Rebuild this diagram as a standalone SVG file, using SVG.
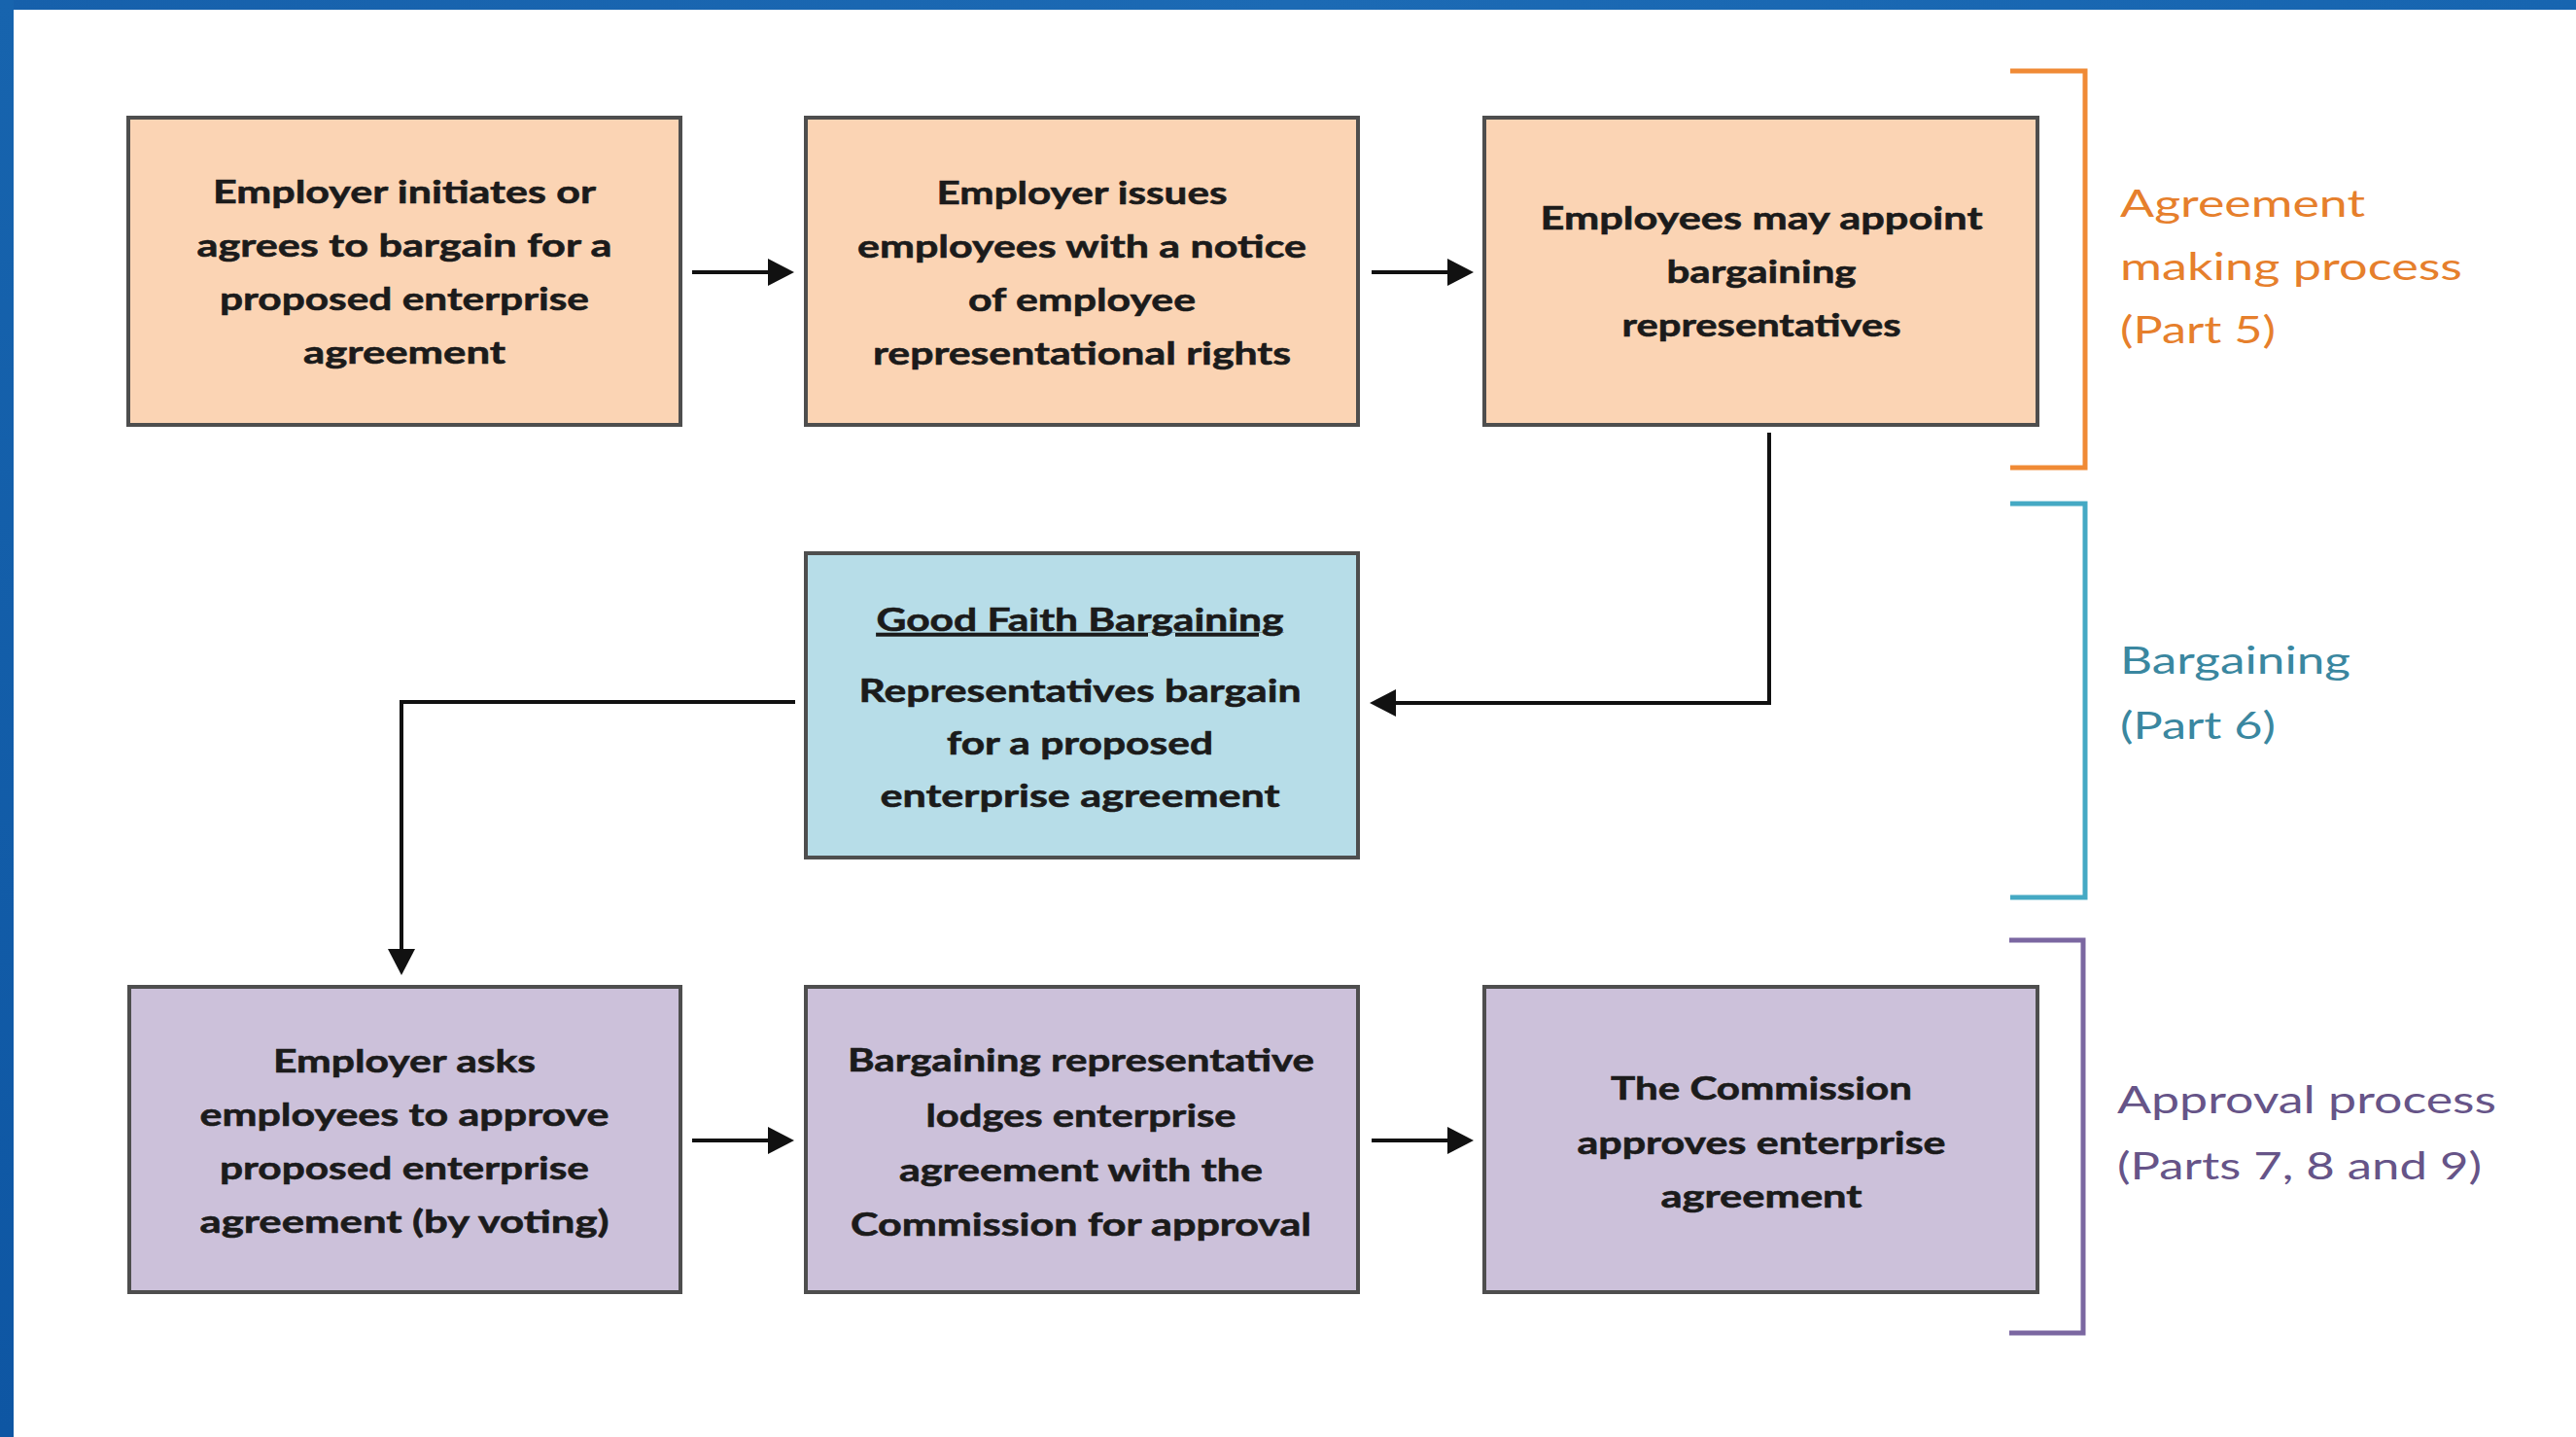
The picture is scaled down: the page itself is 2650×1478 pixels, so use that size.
<svg xmlns="http://www.w3.org/2000/svg" width="2650" height="1478" viewBox="0 0 2650 1478">
  <defs>
    <linearGradient id="bandTop" x1="0" y1="0" x2="1" y2="0">
      <stop offset="0" stop-color="#1660ab"/>
      <stop offset="0.5" stop-color="#1c6ab4"/>
      <stop offset="1" stop-color="#1765b0"/>
    </linearGradient>
    <linearGradient id="bandLeft" x1="0" y1="0" x2="0" y2="1">
      <stop offset="0" stop-color="#1764ae"/>
      <stop offset="1" stop-color="#0e56a3"/>
    </linearGradient>
    <marker id="arrow" viewBox="0 0 27 28" refX="17" refY="14" markerWidth="27" markerHeight="28" markerUnits="userSpaceOnUse" orient="auto">
      <path d="M0,0 L27,14 L0,28 z" fill="#111"/>
    </marker>
    <style>
      .box { stroke: #4e4e4e; stroke-width: 4; }
      .peach { fill: #fbd4b4; }
      .aqua { fill: #b7dde8; }
      .lilac { fill: #ccc1da; }
      .t { font-family: Lato, "Liberation Sans", sans-serif; font-weight: 700; font-size: 33px; fill: #1b1b1b; stroke: #1b1b1b; stroke-width: 0.6px; text-anchor: middle; }
      .lbl { font-family: Lato, "Liberation Sans", sans-serif; font-weight: 400; font-size: 39px; text-anchor: start; }
      .conn { fill: none; stroke: #111; stroke-width: 4; }
      .brk { fill: none; stroke-width: 5; }
    </style>
  </defs>

  <!-- page background and frame bands -->
  <rect x="0" y="0" width="2650" height="1478" fill="#ffffff"/>
  <rect x="0" y="0" width="2650" height="10" fill="url(#bandTop)"/>
  <rect x="0" y="0" width="14" height="1478" fill="url(#bandLeft)"/>

  <!-- connectors -->
  <g id="connectors">
    <path class="conn" d="M712,280 H807" marker-end="url(#arrow)"/>
    <path class="conn" d="M1411,280 H1506" marker-end="url(#arrow)"/>
    <path class="conn" d="M1820,445 V723 H1419" marker-end="url(#arrow)"/>
    <path class="conn" d="M818,722 H413 V993" marker-end="url(#arrow)"/>
    <path class="conn" d="M712,1173 H807" marker-end="url(#arrow)"/>
    <path class="conn" d="M1411,1173 H1506" marker-end="url(#arrow)"/>
  </g>

  <!-- stage 1: agreement making -->
  <g id="node-initiate">
    <rect class="box peach" x="132" y="121" width="568" height="316"/>
    <text class="t" x="416" y="209" textLength="394" lengthAdjust="spacingAndGlyphs">Employer initiates or</text>
    <text class="t" x="416" y="264" textLength="427" lengthAdjust="spacingAndGlyphs">agrees to bargain for a</text>
    <text class="t" x="416" y="319" textLength="380" lengthAdjust="spacingAndGlyphs">proposed enterprise</text>
    <text class="t" x="416" y="374" textLength="208" lengthAdjust="spacingAndGlyphs">agreement</text>
  </g>

  <g id="node-notice">
    <rect class="box peach" x="829" y="121" width="568" height="316"/>
    <text class="t" x="1113" y="210" textLength="299" lengthAdjust="spacingAndGlyphs">Employer issues</text>
    <text class="t" x="1113" y="265" textLength="462" lengthAdjust="spacingAndGlyphs">employees with a notice</text>
    <text class="t" x="1113" y="320" textLength="234" lengthAdjust="spacingAndGlyphs">of employee</text>
    <text class="t" x="1113" y="375" textLength="430" lengthAdjust="spacingAndGlyphs">representational rights</text>
  </g>

  <g id="node-appoint">
    <rect class="box peach" x="1527" y="121" width="569" height="316"/>
    <text class="t" x="1812" y="236" textLength="455" lengthAdjust="spacingAndGlyphs">Employees may appoint</text>
    <text class="t" x="1812" y="291" textLength="195" lengthAdjust="spacingAndGlyphs">bargaining</text>
    <text class="t" x="1812" y="346" textLength="287" lengthAdjust="spacingAndGlyphs">representatives</text>
  </g>

  <!-- stage 2: bargaining -->
  <g id="node-good-faith">
    <rect class="box aqua" x="829" y="569" width="568" height="313"/>
    <text class="t" x="1111" y="649" textLength="419" lengthAdjust="spacingAndGlyphs" text-decoration="underline">Good Faith Bargaining</text>
    <text class="t" x="1111" y="722" textLength="455" lengthAdjust="spacingAndGlyphs">Representatives bargain</text>
    <text class="t" x="1111" y="776" textLength="274" lengthAdjust="spacingAndGlyphs">for a proposed</text>
    <text class="t" x="1111" y="830" textLength="411" lengthAdjust="spacingAndGlyphs">enterprise agreement</text>
  </g>

  <!-- stage 3: approval -->
  <g id="node-vote">
    <rect class="box lilac" x="133" y="1015" width="567" height="314"/>
    <text class="t" x="416" y="1103" textLength="270" lengthAdjust="spacingAndGlyphs">Employer asks</text>
    <text class="t" x="416" y="1158" textLength="421" lengthAdjust="spacingAndGlyphs">employees to approve</text>
    <text class="t" x="416" y="1213" textLength="380" lengthAdjust="spacingAndGlyphs">proposed enterprise</text>
    <text class="t" x="416" y="1268" textLength="421" lengthAdjust="spacingAndGlyphs">agreement (by voting)</text>
  </g>

  <g id="node-lodge">
    <rect class="box lilac" x="829" y="1015" width="568" height="314"/>
    <text class="t" x="1112" y="1102" textLength="480" lengthAdjust="spacingAndGlyphs">Bargaining representative</text>
    <text class="t" x="1112" y="1159" textLength="319" lengthAdjust="spacingAndGlyphs">lodges enterprise</text>
    <text class="t" x="1112" y="1215" textLength="374" lengthAdjust="spacingAndGlyphs">agreement with the</text>
    <text class="t" x="1112" y="1271" textLength="474" lengthAdjust="spacingAndGlyphs">Commission for approval</text>
  </g>

  <g id="node-approve">
    <rect class="box lilac" x="1527" y="1015" width="569" height="314"/>
    <text class="t" x="1812" y="1131" textLength="310" lengthAdjust="spacingAndGlyphs">The Commission</text>
    <text class="t" x="1812" y="1187" textLength="379" lengthAdjust="spacingAndGlyphs">approves enterprise</text>
    <text class="t" x="1812" y="1242" textLength="207" lengthAdjust="spacingAndGlyphs">agreement</text>
  </g>

  <!-- phase brackets and captions -->
  <g id="phase-agreement">
    <path class="brk" stroke="#f08a35" d="M2068,73 H2145 V481 H2068"/>
    <g class="lbl" fill="#e67f2c">
      <text x="2181" y="223" textLength="252" lengthAdjust="spacingAndGlyphs">Agreement</text>
      <text x="2181" y="288" textLength="352" lengthAdjust="spacingAndGlyphs">making process</text>
      <text x="2181" y="353" textLength="160" lengthAdjust="spacingAndGlyphs">(Part 5)</text>
    </g>
  </g>

  <g id="phase-bargaining">
    <path class="brk" stroke="#45a9c4" d="M2068,518 H2145 V923 H2068"/>
    <g class="lbl" fill="#3a87a0">
      <text x="2181" y="693" textLength="237" lengthAdjust="spacingAndGlyphs">Bargaining</text>
      <text x="2181" y="760" textLength="160" lengthAdjust="spacingAndGlyphs">(Part 6)</text>
    </g>
  </g>

  <g id="phase-approval">
    <path class="brk" stroke="#7b67a1" d="M2067,967 H2143 V1371 H2067"/>
    <g class="lbl" fill="#665488">
      <text x="2178" y="1145" textLength="390" lengthAdjust="spacingAndGlyphs">Approval process</text>
      <text x="2178" y="1213" textLength="375" lengthAdjust="spacingAndGlyphs">(Parts 7, 8 and 9)</text>
    </g>
  </g>
</svg>
